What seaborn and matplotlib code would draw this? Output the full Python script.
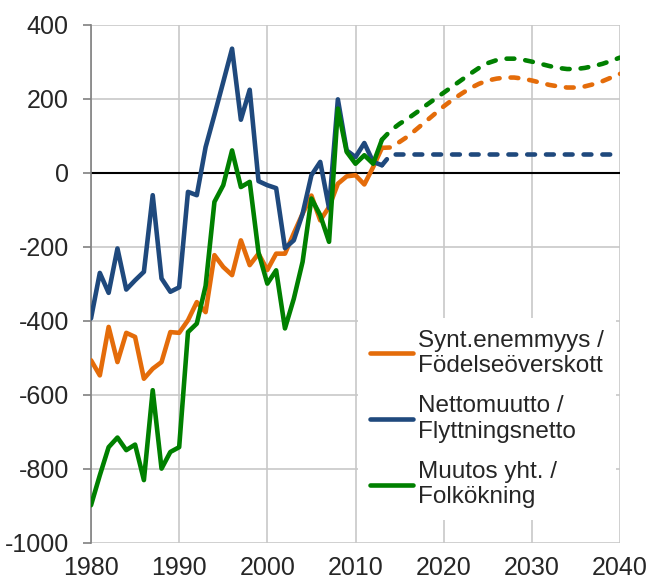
import matplotlib.pyplot as plt
import matplotlib.ticker as mtick
import pandas as pd
import seaborn as sns

# historical data 1980-2013
years = list(range(1980, 2014))
births_net = [-506, -547, -416, -511, -432, -443, -556, -529, -511, -430,
              -432, -398, -349, -376, -222, -254, -276, -182, -249, -218,
              -262, -218, -218, -163, -110, -61, -128, -92, -29, -9,
              -6, -31, 16, 68]
migration_net = [-393, -270, -324, -204, -315, -290, -267, -60, -285, -321,
                 -309, -51, -60, 70, 157, 246, 336, 144, 225, -22,
                 -33, -41, -203, -182, -110, -6, 30, -95, 199, 61,
                 43, 81, 30, 21]
total_change = [-898, -817, -741, -715, -749, -734, -830, -587, -799, -754,
                -741, -430, -407, -305, -78, -33, 61, -38, -24, -215,
                -299, -263, -420, -340, -240, -69, -114, -186, 174, 57,
                25, 48, 25, 90]

# projection 2013-2040
proj_years = list(range(2013, 2041))
births_proj = [68, 69, 84, 100, 120, 140, 160, 180, 198, 214,
               229, 241, 250, 255, 258, 258, 255, 250, 244, 238,
               234, 231, 231, 234, 240, 248, 258, 268]
migration_proj = [21, 50, 50, 50, 50, 50, 50, 50, 50, 50,
                  50, 50, 50, 50, 50, 50, 50, 50, 50, 50,
                  50, 50, 50, 50, 50, 50, 50, 50]
total_proj = [90, 115, 133, 148, 165, 183, 200, 217, 234, 251,
              268, 284, 297, 305, 309, 309, 306, 301, 295, 289,
              284, 281, 281, 284, 289, 295, 303, 312]

labels = ['Synt.enemmyys /\nFödelseöverskott',
          'Nettomuutto /\nFlyttningsnetto',
          'Muutos yht. /\nFolkökning']
colors = ['#E46C0A', '#1F497D', '#008000']

sns.set_style('white')
plt.rcParams['font.family'] = ['Liberation Sans', 'DejaVu Sans']
plt.rcParams['axes.unicode_minus'] = False

hist = pd.DataFrame({'Year': years, labels[0]: births_net,
                     labels[1]: migration_net, labels[2]: total_change})
hist = hist.melt(id_vars='Year', var_name='Series', value_name='Value')
proj = pd.DataFrame({'Year': proj_years, labels[0]: births_proj,
                     labels[1]: migration_proj, labels[2]: total_proj})
proj = proj.melt(id_vars='Year', var_name='Series', value_name='Value')

fig = plt.figure(figsize=(6.6, 5.8), dpi=100)
ax = fig.add_axes([91 / 660, 1 - 543 / 580, 529 / 660, 518 / 580])

palette = dict(zip(labels, colors))
sns.lineplot(data=proj, x='Year', y='Value', hue='Series', palette=palette,
             hue_order=labels, lw=3.3, ax=ax, legend=False, zorder=3,
             dashes=False)
for line in ax.get_lines():
    line.set_dashes((1.7, 2.4))
    line.set_dash_capstyle('round')
sns.lineplot(data=hist, x='Year', y='Value', hue='Series', palette=palette,
             hue_order=labels, lw=3.3, ax=ax, zorder=4)

ax.axhline(0, color='black', lw=1.5, zorder=2)

ax.set_xlim(1980, 2040)
ax.set_ylim(-1000, 400)
ax.xaxis.set_major_locator(mtick.MultipleLocator(10))
ax.yaxis.set_major_locator(mtick.MultipleLocator(200))
ax.grid(True, color='#c8c8c8', lw=1.2, zorder=0)
ax.set_axisbelow(True)
for side in ['top', 'right', 'bottom']:
    ax.spines[side].set_visible(False)
ax.spines['left'].set_color('#808080')
ax.spines['left'].set_linewidth(1.2)
ax.tick_params(axis='y', length=6, width=1.2, color='#808080', pad=10,
               labelsize=18, left=True)
ax.tick_params(axis='x', length=0, pad=9.5, labelsize=18)
ax.set_xlabel('')
ax.set_ylabel('')

ax.legend(loc='lower right', bbox_to_anchor=(1.015, 0.02), fontsize=17.5,
          frameon=True, facecolor='white', edgecolor='none', framealpha=1,
          fancybox=False, handlelength=1.75, handletextpad=0.2,
          labelspacing=0.75, borderpad=0.5)

fig.savefig('out.png', dpi=100)
